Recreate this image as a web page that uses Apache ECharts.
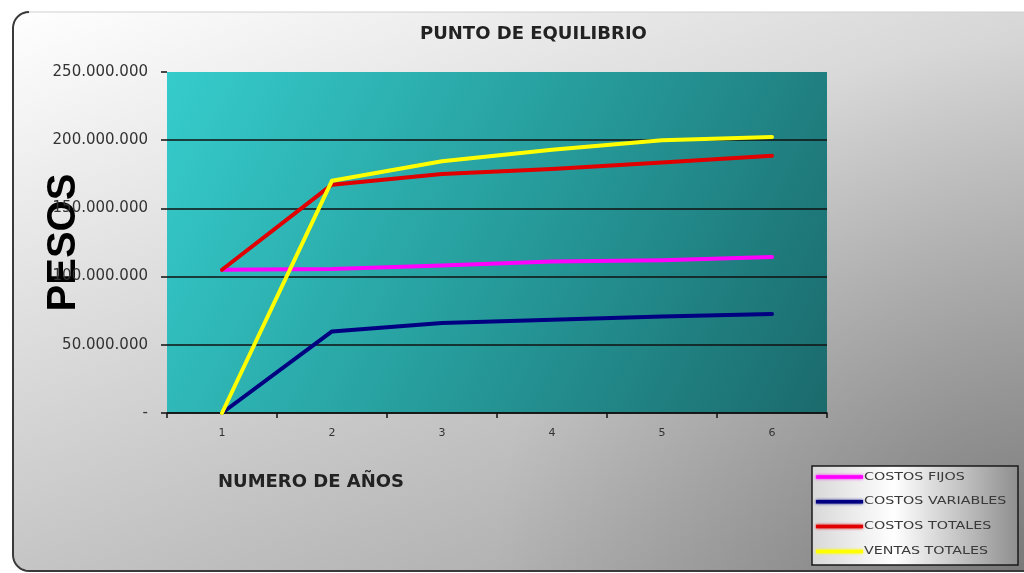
<!DOCTYPE html>
<html>
<head>
<meta charset="utf-8">
<title>Punto de equilibrio</title>
<script src="https://cdn.jsdelivr.net/npm/echarts@6/dist/echarts.min.js"></script>
<style>
  html, body { margin: 0; padding: 0; background: #ffffff; }
  #chart { width: 1024px; height: 573px; }
</style>
</head>
<body>
<div id="chart"></div>
<script>
// Años del horizonte de análisis
const years = ['1', '2', '3', '4', '5', '6'];

// Valores en pesos por año
const costosFijos     = [105000000, 105600000, 108200000, 111100000, 111900000, 114400000];
const costosVariables = [0,          59800000,  66000000,  68400000,  70800000,  72600000];
const costosTotales   = [105000000, 167400000, 175200000, 178900000, 183700000, 188600000];
const ventasTotales   = [0,         170300000, 184500000, 193000000, 199900000, 202300000];

// Etiquetas del eje de pesos (0 se muestra como guion)
const yTickLabels = ['-', '50.000.000', '100.000.000', '150.000.000', '200.000.000', '250.000.000'];

const seriesNames = ['COSTOS FIJOS', 'COSTOS VARIABLES', 'COSTOS TOTALES', 'VENTAS TOTALES'];
const seriesData = [costosFijos, costosVariables, costosTotales, ventasTotales];
const seriesColors = ['#ff00ff', '#000080', '#e00000', '#ffff00'];

const Y_STEP = 50000000;

const chart = echarts.init(document.getElementById('chart'), null, { renderer: 'canvas' });

// Borde izquierdo e inferior del marco, con esquinas redondeadas
function cornerPoints(cx, cy, r, a0, a1, n) {
  const pts = [];
  for (let k = 0; k <= n; k++) {
    const a = a0 + (a1 - a0) * k / n;
    pts.push([cx + r * Math.cos(a), cy + r * Math.sin(a)]);
  }
  return pts;
}
const frameEdge = []
  .concat(cornerPoints(29, 28, 16, -Math.PI / 2, -Math.PI, 8))
  .concat(cornerPoints(29, 555, 16, Math.PI, Math.PI / 2, 8))
  .concat([[1024, 571]]);

// Leyenda dibujada a mano dentro de su recuadro
const legendGraphics = [{
  type: 'rect',
  shape: { x: 812, y: 466, width: 206, height: 99 },
  style: {
    fill: { type: 'linear', x: 0, y: 0, x2: 1, y2: 0,
      colorStops: [{ offset: 0, color: '#d8d8d8' }, { offset: 0.4, color: '#ffffff' }, { offset: 1, color: '#8e8e8e' }] },
    stroke: '#1a1a1a', lineWidth: 1.5
  },
  z: 10
}];
seriesNames.forEach(function (name, i) {
  const cy = 477 + i * 24.8;
  legendGraphics.push({
    type: 'line',
    shape: { x1: 816, y1: cy, x2: 863, y2: cy },
    style: { stroke: seriesColors[i], lineWidth: 3.5, shadowBlur: 3, shadowColor: seriesColors[i] },
    z: 11
  });
  legendGraphics.push({
    type: 'text',
    x: 864, y: cy,
    scaleX: 1.43,
    style: { text: name, fill: '#3a3a3a', font: '10px "DejaVu Sans"', verticalAlign: 'middle', align: 'left' },
    z: 11
  });
});

const option = {
  animation: false,
  backgroundColor: '#ffffff',
  title: {
    text: 'PUNTO DE EQUILIBRIO',
    left: 420,
    top: 25,
    padding: 0,
    textStyle: { fontFamily: 'DejaVu Sans', fontWeight: 'bold', fontSize: 18, color: '#222222' }
  },
  graphic: [
    {
      // fondo del marco: degradado gris de arriba-izquierda hacia abajo-derecha
      type: 'rect',
      shape: { x: 13, y: 12, width: 1040, height: 559, r: 16 },
      style: {
        fill: { type: 'linear', x: 0, y: 0, x2: 0.293, y2: 1.47,
          colorStops: [
            { offset: 0, color: '#ffffff' },
            { offset: 1, color: '#9e9e9e' }
          ] },
        stroke: '#d0d0d0', lineWidth: 1
      },
      z: -10
    },
    {
      // sombra en la esquina inferior derecha
      type: 'rect',
      shape: { x: 13, y: 12, width: 1011, height: 559 },
      style: {
        fill: { type: 'radial', x: 1, y: 1, r: 0.95,
          colorStops: [
            { offset: 0, color: 'rgba(0,0,0,0.24)' },
            { offset: 1, color: 'rgba(0,0,0,0)' }
          ] }
      },
      z: -10
    },
    {
      type: 'polyline',
      shape: { points: frameEdge },
      style: { fill: null, stroke: '#3a3a3a', lineWidth: 2 },
      z: -9
    }
  ].concat(legendGraphics),
  legend: { show: false },
  grid: {
    left: 167, top: 72, right: 197, bottom: 160,
    outerBoundsMode: 'none',
    containLabel: false,
    show: true,
    borderWidth: 0,
    backgroundColor: { type: 'linear', x: 0, y: 0, x2: 1, y2: 1,
      colorStops: [{ offset: 0, color: '#36cccc' }, { offset: 0.5, color: '#279d9d' }, { offset: 1, color: '#1b6a6c' }] }
  },
  xAxis: {
    type: 'category',
    data: years,
    boundaryGap: true,
    name: 'NUMERO DE AÑOS',
    nameLocation: 'middle',
    nameGap: 60,
    nameMoveOverlap: false,
    nameTextStyle: { fontFamily: 'DejaVu Sans', fontWeight: 'bold', fontSize: 18, color: '#222222', padding: [0, 372, 0, 0] },
    axisLine: { show: true, lineStyle: { color: '#111111', width: 1.5 } },
    axisTick: { show: true, length: 5, lineStyle: { color: '#111111', width: 1.5 } },
    axisLabel: { margin: 15, fontFamily: 'DejaVu Sans', fontSize: 11, color: '#333333' },
    splitLine: { show: false }
  },
  yAxis: {
    type: 'value',
    min: 0,
    max: 250000000,
    interval: Y_STEP,
    name: 'PESOS',
    nameLocation: 'middle',
    nameRotate: 90,
    nameGap: 83,
    nameMoveOverlap: false,
    nameTextStyle: { fontFamily: 'Liberation Sans', fontWeight: 'bold', fontSize: 40, color: '#000000' },
    axisLine: { show: false },
    axisTick: { show: true, length: 6, lineStyle: { color: '#111111', width: 1.5 } },
    axisLabel: {
      margin: 19,
      fontFamily: 'DejaVu Sans',
      fontSize: 15,
      color: '#333333',
      formatter: function (v) { return yTickLabels[Math.round(v / Y_STEP)]; }
    },
    splitLine: { show: true, showMaxLine: false, lineStyle: { color: '#111111', width: 1.5 } }
  },
  series: seriesNames.map(function (name, i) {
    return {
      name: name,
      type: 'line',
      data: seriesData[i],
      symbol: 'none',
      lineStyle: { color: seriesColors[i], width: 4, cap: 'round', join: 'round' },
      itemStyle: { color: seriesColors[i] },
      z: 3 + i
    };
  })
};

chart.setOption(option);
</script>
</body>
</html>
